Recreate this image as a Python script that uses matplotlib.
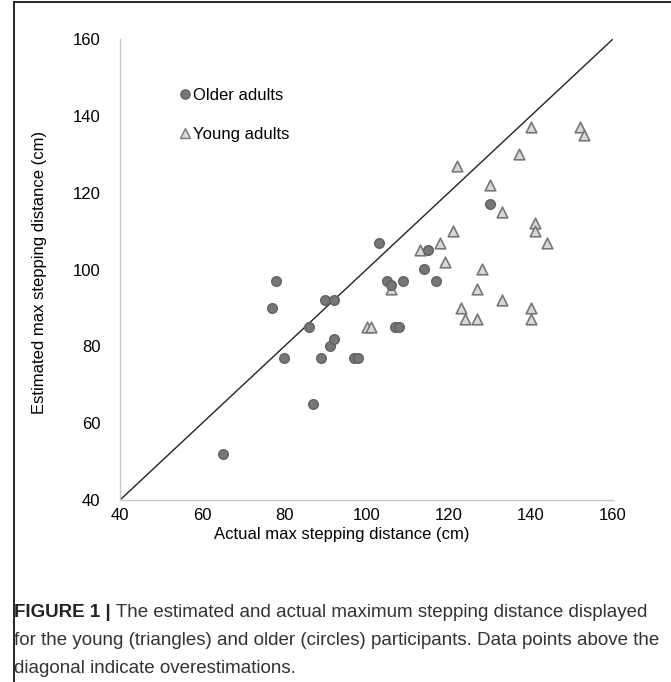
import matplotlib
matplotlib.use('Agg')
import matplotlib.pyplot as plt
from matplotlib.lines import Line2D

plt.rcParams['font.family'] = ['Liberation Sans', 'DejaVu Sans']

# older adults (circles)
older_x = [65, 87, 80, 89, 97, 98, 91, 92, 86, 107, 108, 77, 90, 92, 78, 105, 109, 117, 106, 114, 115, 103, 130]
older_y = [52, 65, 77, 77, 77, 77, 80, 82, 85, 85, 85, 90, 92, 92, 97, 97, 97, 97, 96, 100, 105, 107, 117]

# young adults (triangles)
young_x = [106, 100, 101, 113, 118, 119, 121, 122, 123, 124, 127, 127, 128, 130, 133, 133, 140, 140, 141, 141, 144, 137, 140, 152, 153]
young_y = [95, 85, 85, 105, 107, 102, 110, 127, 90, 87, 87, 95, 100, 122, 115, 92, 90, 87, 112, 110, 107, 130, 137, 137, 135]

ticks = [40, 60, 80, 100, 120, 140, 160]

W, H = 671, 682
fig = plt.figure(figsize=(W / 100, H / 100), dpi=100)

ax = fig.add_axes([120 / W, 1 - 500 / H, 493 / W, 461 / H])
ax.set_xlim(40, 160)
ax.set_ylim(40, 160)
ax.plot([40, 160], [40, 160], color='#222222', lw=1.0, zorder=1)

ax.scatter(older_x, older_y, s=48, marker='o', facecolor='#777777',
           edgecolor='#606060', linewidths=1.0, zorder=3)
ax.scatter(young_x, young_y, s=58, marker='^', facecolor='#d8d8d8',
           edgecolor='#777777', linewidths=1.2, zorder=2)

for s in ['top', 'right']:
    ax.spines[s].set_visible(False)
for s in ['left', 'bottom']:
    ax.spines[s].set_color('#c8c8c8')
    ax.spines[s].set_linewidth(1.0)
ax.set_xticks(ticks)
ax.set_yticks(ticks)
ax.tick_params(length=0, labelsize=12)
ax.tick_params(axis='x', pad=6)
ax.tick_params(axis='y', pad=14)

# legend: marker + text, no frame
leg = [Line2D([], [], ls='', marker='o', ms=6.6, mfc='#777777', mec='#606060'),
       Line2D([], [], ls='', marker='^', ms=7.5, mfc='#d8d8d8', mec='#777777')]
ax.legend(leg, ['Older adults', 'Young adults'], loc='upper left',
          bbox_to_anchor=(0.115, 0.893), frameon=False, fontsize=12,
          handletextpad=-0.05, handlelength=1.0, labelspacing=1.4,
          borderpad=0, borderaxespad=0)

fig.text(342 / W, 1 - 535 / H, 'Actual max stepping distance (cm)',
         ha='center', va='center', fontsize=12)
fig.text(40 / W, 1 - 272 / H, 'Estimated max stepping distance (cm)',
         ha='center', va='center', rotation=90, fontsize=12)

# caption
cap_y = [617, 645, 673]
cap_font = 13.5
b = fig.text(14 / W, 1 - cap_y[0] / H, 'FIGURE 1 |', fontweight='bold',
             ha='left', va='baseline', fontsize=cap_font, color='#222222')
ax.annotate(' The estimated and actual maximum stepping distance displayed',
            xy=(1, 0), xycoords=b, va='bottom', ha='left',
            fontsize=cap_font, color='#333333', annotation_clip=False)
fig.text(14 / W, 1 - cap_y[1] / H,
         'for the young (triangles) and older (circles) participants. Data points above the',
         ha='left', va='baseline', fontsize=cap_font, color='#333333')
fig.text(14 / W, 1 - cap_y[2] / H, 'diagonal indicate overestimations.',
         ha='left', va='baseline', fontsize=cap_font, color='#333333')

# border
fig.add_artist(Line2D([14 / W, 14 / W], [0, 1 - 2 / H], color='black', lw=1.2))
fig.add_artist(Line2D([14 / W, 1], [1 - 2 / H, 1 - 2 / H], color='black', lw=1.2))

fig.savefig('out.png', dpi=100)
